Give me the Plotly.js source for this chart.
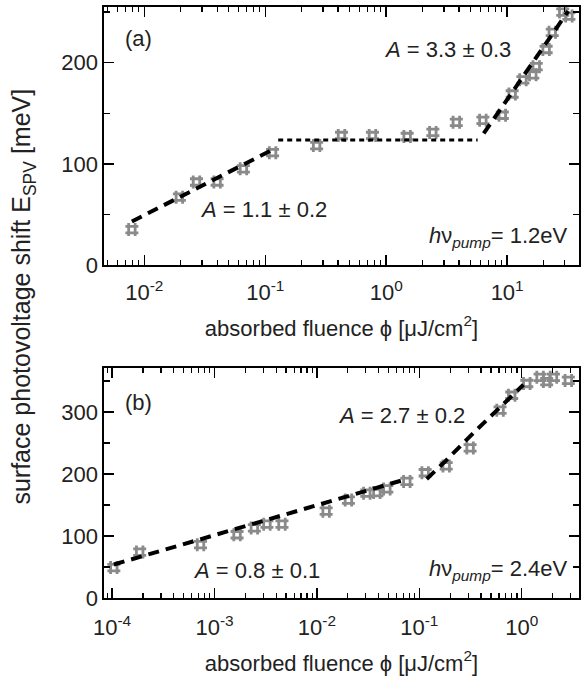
<!DOCTYPE html>
<html>
<head>
<meta charset="utf-8">
<script src="https://cdn.plot.ly/plotly-3.0.1.min.js"></script>
<style>html,body{margin:0;padding:0;background:#fff;}#chart{width:582px;height:687px;}</style>
</head>
<body>
<div id="chart"></div>
<script>
// Panel (a): hv_pump = 1.2 eV
const aPhi = [0.0079, 0.0195, 0.027, 0.040, 0.066, 0.115, 0.266, 0.427, 0.77, 1.49, 2.43, 3.80, 6.30, 9.12, 11.0, 13.5, 16.3, 17.4, 21.0, 23.6, 28.8, 32.4];
const aE   = [35, 67, 82, 82, 95, 111, 118, 128, 128, 127, 131, 141, 143, 148, 169, 183, 188, 196, 213, 230, 250, 246];
const aFit1Phi = [0.0079, 0.115], aFit1E = [43, 114];
const aFit2Phi = [0.128, 5.7],    aFit2E = [123.5, 123.5];
const aFit3Phi = [6.4, 32],       aFit3E = [130, 251];

// Panel (b): hv_pump = 2.4 eV
const bPhi = [1.04e-4, 1.86e-4, 7.3e-4, 1.66e-3, 2.45e-3, 3.25e-3, 4.56e-3, 0.0123, 0.0203, 0.0307, 0.0385, 0.0482, 0.0755, 0.114, 0.183, 0.313, 0.614, 0.798, 1.12, 1.51, 1.75, 2.04, 2.85];
const bE   = [49, 74, 86, 102, 113, 119, 119, 140, 158, 169, 170, 176, 188, 202, 213, 242, 303, 327, 346, 356, 349, 356, 351];
const bFit1Phi = [1.04e-4, 0.0755], bFit1E = [54, 192];
const bFit2Phi = [0.118, 0.178, 0.336, 0.64, 1.04], bFit2E = [192, 220, 266, 311, 344];

const aTickVals = [0.01, 0.1, 1, 10];
const aTickText = ['10<sup>-2</sup>', '10<sup>-1</sup>', '10<sup>0</sup>', '10<sup>1</sup>'];
const bTickVals = [1e-4, 1e-3, 1e-2, 1e-1, 1];
const bTickText = ['10<sup>-4</sup>', '10<sup>-3</sup>', '10<sup>-2</sup>', '10<sup>-1</sup>', '10<sup>0</sup>'];

function minorLog(lo, hi) {
  const out = [];
  for (let e = lo; e <= hi; e++) for (let m = 2; m <= 9; m++) out.push(m * Math.pow(10, e));
  return out;
}

const FONT = 'Liberation Sans, Arial, sans-serif';
const marker = {symbol: 'hash', size: 13, color: '#8a8a8a', line: {color: '#8a8a8a', width: 2.8}};
const dashLine = {color: '#000', width: 4, dash: '11px,7px'};
const dotLine = {color: '#000', width: 3, dash: '5px,4px'};

const traces = [
  {x: aPhi, y: aE, xaxis: 'x', yaxis: 'y', mode: 'markers', marker: marker},
  {x: aFit1Phi, y: aFit1E, xaxis: 'x', yaxis: 'y', mode: 'lines', line: dashLine},
  {x: aFit2Phi, y: aFit2E, xaxis: 'x', yaxis: 'y', mode: 'lines', line: dotLine},
  {x: aFit3Phi, y: aFit3E, xaxis: 'x', yaxis: 'y', mode: 'lines', line: dashLine},
  {x: bPhi, y: bE, xaxis: 'x2', yaxis: 'y2', mode: 'markers', marker: marker},
  {x: bFit1Phi, y: bFit1E, xaxis: 'x2', yaxis: 'y2', mode: 'lines', line: dashLine},
  {x: bFit2Phi, y: bFit2E, xaxis: 'x2', yaxis: 'y2', mode: 'lines', line: dashLine}
];

const axisCommon = {
  showline: true, linecolor: '#000', linewidth: 1.6, mirror: 'ticks',
  ticks: 'inside', ticklen: 10, tickwidth: 1.4, tickcolor: '#000',
  showgrid: false, zeroline: false,
  tickfont: {family: FONT, size: 22, color: '#222'}
};
const xTitle = {text: 'absorbed fluence \u03d5 [\u03bcJ/cm<sup>2</sup>]', font: {family: FONT, size: 22, color: '#222'}, standoff: 16};

const layout = {
  width: 582, height: 687,
  margin: {l: 104, r: 3, t: 7, b: 89},
  paper_bgcolor: '#fff', plot_bgcolor: '#fff',
  showlegend: false,
  font: {family: FONT, size: 22, color: '#222'},
  xaxis: Object.assign({}, axisCommon, {
    type: 'log', range: [-2.333, 1.594], anchor: 'y', domain: [0, 1],
    tickmode: 'array', tickvals: aTickVals, ticktext: aTickText, ticklabelstandoff: 7,
    minor: {tickmode: 'array', tickvals: minorLog(-3, 1), ticks: 'inside', ticklen: 5, tickwidth: 1.2, tickcolor: '#000'},
    title: xTitle
  }),
  yaxis: Object.assign({}, axisCommon, {
    range: [0, 255], domain: [0.5635, 1], anchor: 'x',
    tickmode: 'array', tickvals: [0, 100, 200],
    minor: {tickmode: 'array', tickvals: [50, 150, 250], ticks: 'inside', ticklen: 6, tickwidth: 1.2, tickcolor: '#000'}
  }),
  xaxis2: Object.assign({}, axisCommon, {
    type: 'log', range: [-4.079, 0.559], anchor: 'y2', domain: [0, 1],
    tickmode: 'array', tickvals: bTickVals, ticktext: bTickText, ticklabelstandoff: 9,
    minor: {tickmode: 'array', tickvals: minorLog(-5, 0), ticks: 'inside', ticklen: 5, tickwidth: 1.2, tickcolor: '#000'},
    title: xTitle
  }),
  yaxis2: Object.assign({}, axisCommon, {
    range: [0, 371], domain: [0, 0.3892], anchor: 'x2',
    tickmode: 'array', tickvals: [0, 100, 200, 300],
    minor: {tickmode: 'array', tickvals: [50, 150, 250, 350], ticks: 'inside', ticklen: 6, tickwidth: 1.2, tickcolor: '#000'}
  }),
  annotations: [
    {xref: 'paper', yref: 'paper', x: -0.1705, y: 0.51, xanchor: 'center', yanchor: 'middle', textangle: -90, showarrow: false,
     text: 'surface photovoltage shift E<sub>SPV</sub> [meV]', font: {family: FONT, size: 25, color: '#222'}},
    {xref: 'paper', yref: 'paper', x: (138 - 104) / 475, y: (598 - 39) / 591, xanchor: 'center', yanchor: 'middle', showarrow: false,
     text: '(a)', font: {family: FONT, size: 22, color: '#222'}},
    {xref: 'paper', yref: 'paper', x: (263 - 104) / 475, y: (598 - 210) / 591, xanchor: 'center', yanchor: 'middle', showarrow: false,
     text: '<i>A</i> = 1.1 \u00b1 0.2', font: {family: FONT, size: 22, color: '#222'}},
    {xref: 'paper', yref: 'paper', x: (447 - 104) / 475, y: (598 - 50) / 591, xanchor: 'center', yanchor: 'middle', showarrow: false,
     text: '<i>A</i> = 3.3 \u00b1 0.3', font: {family: FONT, size: 22, color: '#222'}},
    {xref: 'paper', yref: 'paper', x: (570 - 104) / 475, y: (598 - 237) / 591, xanchor: 'right', yanchor: 'middle', showarrow: false,
     text: '<i>h</i>\u03bd<sub><i>pump</i></sub>= 1.2eV', font: {family: FONT, size: 22, color: '#222'}},
    {xref: 'paper', yref: 'paper', x: (138 - 104) / 475, y: (598 - 402) / 591, xanchor: 'center', yanchor: 'middle', showarrow: false,
     text: '(b)', font: {family: FONT, size: 22, color: '#222'}},
    {xref: 'paper', yref: 'paper', x: (256 - 104) / 475, y: (598 - 570) / 591, xanchor: 'center', yanchor: 'middle', showarrow: false,
     text: '<i>A</i> = 0.8 \u00b1 0.1', font: {family: FONT, size: 22, color: '#222'}},
    {xref: 'paper', yref: 'paper', x: (401 - 104) / 475, y: (598 - 415) / 591, xanchor: 'center', yanchor: 'middle', showarrow: false,
     text: '<i>A</i> = 2.7 \u00b1 0.2', font: {family: FONT, size: 22, color: '#222'}},
    {xref: 'paper', yref: 'paper', x: (570 - 104) / 475, y: (598 - 570) / 591, xanchor: 'right', yanchor: 'middle', showarrow: false,
     text: '<i>h</i>\u03bd<sub><i>pump</i></sub>= 2.4eV', font: {family: FONT, size: 22, color: '#222'}}
  ]
};

Plotly.newPlot('chart', traces, layout, {staticPlot: true, displayModeBar: false});
</script>
</body>
</html>
